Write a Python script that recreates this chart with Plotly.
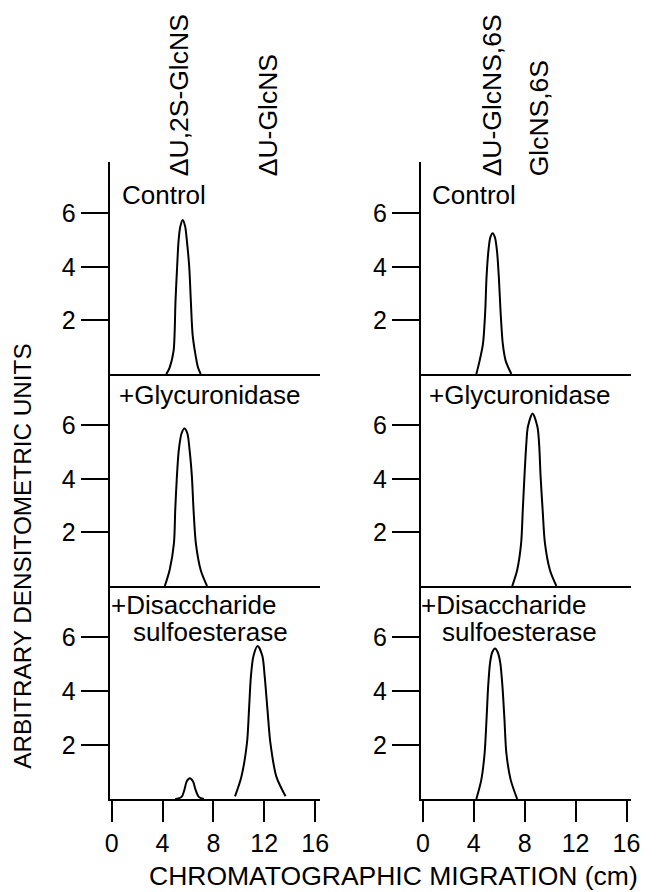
import plotly.graph_objects as go

# ---------------- data ----------------
# x: chromatographic migration (cm), y: arbitrary densitometric units
ctrl_left_x = [4.3, 4.56, 4.87, 4.95, 5.02, 5.15, 5.26, 5.4, 5.59, 5.78, 5.92, 6.1, 6.23, 6.36, 6.54, 6.79, 7.0]
ctrl_left_y = [0, 0.24, 0.86, 1.5, 2.7, 4.0, 4.95, 5.5, 5.75, 5.5, 4.95, 4.0, 2.7, 1.5, 0.86, 0.24, 0]

ctrl_right_x = [4.2, 4.46, 4.72, 4.9, 5.0, 5.15, 5.3, 5.48, 5.66, 5.82, 5.97, 6.1, 6.28, 6.5, 6.95]
ctrl_right_y = [0, 0.5, 1.12, 2.36, 3.6, 4.6, 5.1, 5.25, 5.1, 4.6, 3.6, 2.36, 1.12, 0.5, 0]

glyc_left_x = [4.18, 4.56, 4.9, 5.0, 5.13, 5.28, 5.5, 5.72, 5.95, 6.13, 6.31, 6.44, 6.62, 7.0, 7.5]
glyc_left_y = [0, 0.6, 1.6, 2.84, 4.08, 5.07, 5.7, 5.88, 5.7, 5.07, 4.08, 2.84, 1.6, 0.6, 0]

glyc_right_x = [7.02, 7.41, 7.72, 7.85, 7.98, 8.13, 8.25, 8.62, 9.0, 9.13, 9.25, 9.41, 9.59, 9.98, 10.49]
glyc_right_y = [0, 0.6, 1.6, 2.84, 4.08, 5.32, 5.94, 6.44, 5.94, 5.32, 4.08, 2.84, 1.6, 0.6, 0]

sulf_left_small_x = [5.0, 5.5, 5.72, 5.9, 6.15, 6.4, 6.6, 6.85, 7.25]
sulf_left_small_y = [0, 0.08, 0.34, 0.65, 0.77, 0.65, 0.34, 0.08, 0]

sulf_left_big_x = [9.7, 10.2, 10.64, 10.8, 10.95, 11.15, 11.48, 11.85, 12.03, 12.25, 12.48, 12.95, 13.67]
sulf_left_big_y = [0.1, 0.83, 2.08, 3.32, 4.56, 5.31, 5.68, 5.31, 4.56, 3.32, 2.08, 0.83, 0.1]

sulf_right_x = [4.2, 4.59, 4.85, 5.0, 5.13, 5.28, 5.45, 5.67, 5.88, 6.08, 6.25, 6.41, 6.56, 6.9, 7.41]
sulf_right_y = [0, 0.71, 1.7, 2.95, 4.19, 5.06, 5.45, 5.59, 5.45, 5.06, 4.19, 2.95, 1.7, 0.71, 0]

x_ticks = [0, 4, 8, 12, 16]
y_ticks = [2, 4, 6]
panel_labels = [["Control"], ["+Glycuronidase"], ["+Disaccharide", "sulfoesterase"]]
left_markers = ["\u0394U,2S-GlcNS", "\u0394U-GlcNS"]
right_markers = ["\u0394U-GlcNS,6S", "GlcNS,6S"]
y_title = "ARBITRARY DENSITOMETRIC UNITS"
x_title = "CHROMATOGRAPHIC MIGRATION (cm)"

# ---------------- layout helpers ----------------
W, H = 656, 892
FONT = "Liberation Sans, Arial, Helvetica, sans-serif"

def px(p):
    return p / W

def py(p):
    return 1 - p / H

x_dom = [[px(107), px(322)], [px(425), px(640)]]
x_rng = [[-0.15, 16.39], [-0.154, 16.38]]
y_dom = [[py(374), py(162)], [py(586), py(374)], [py(799), py(586)]]
y_rng = [0, 7.91]

series = [
    (0, 0, [(ctrl_left_x, ctrl_left_y)]),
    (0, 1, [(ctrl_right_x, ctrl_right_y)]),
    (1, 0, [(glyc_left_x, glyc_left_y)]),
    (1, 1, [(glyc_right_x, glyc_right_y)]),
    (2, 0, [(sulf_left_small_x, sulf_left_small_y), (sulf_left_big_x, sulf_left_big_y)]),
    (2, 1, [(sulf_right_x, sulf_right_y)]),
]

fig = go.Figure()
layout = dict(
    width=W, height=H,
    margin=dict(l=0, r=0, t=0, b=0),
    paper_bgcolor="white", plot_bgcolor="white",
    showlegend=False,
    font=dict(family=FONT, color="black", size=24),
)

for row, col, curves in series:
    i = row * 2 + col + 1
    sfx = "" if i == 1 else str(i)
    for cx, cy in curves:
        fig.add_trace(go.Scatter(
            x=cx, y=cy, mode="lines",
            line=dict(color="black", width=2, shape="spline", smoothing=0.8),
            xaxis="x" + sfx, yaxis="y" + sfx, hoverinfo="skip",
        ))
    bottom = row == 2
    layout["xaxis" + sfx] = dict(
        domain=x_dom[col], range=x_rng[col], anchor="y" + sfx,
        showline=True, linecolor="black", linewidth=2,
        showgrid=False, zeroline=False, fixedrange=True,
        ticks="outside" if bottom else "", tickvals=x_ticks,
        ticklen=21, tickwidth=2, tickcolor="black",
        showticklabels=bottom, tickfont=dict(size=25, family=FONT),
    )
    layout["yaxis" + sfx] = dict(
        domain=y_dom[row], range=y_rng, anchor="x" + sfx,
        showline=True, linecolor="black", linewidth=2,
        showgrid=False, zeroline=False, fixedrange=True,
        ticks="outside", tickvals=y_ticks,
        ticklen=27, tickwidth=2, tickcolor="black",
        tickfont=dict(size=25, family=FONT),
    )

annotations = []
# panel labels (pixel positions of each line's left edge / vertical centre)
label_pos = [
    [[(118, 195)], [(434, 195)]],
    [[(114, 395)], [(431, 395)]],
    [[(106, 605), (129, 632)], [(423, 605), (444, 632)]],
]
for r, lines in enumerate(panel_labels):
    for c in range(2):
        for k, line in enumerate(lines):
            xx, yy = label_pos[r][c][k]
            annotations.append(dict(
                text=line, xref="paper", yref="paper", x=px(xx), y=py(yy),
                xanchor="left", yanchor="middle", showarrow=False, align="left",
                font=dict(size=26, family=FONT),
            ))

# rotated component markers at the top
marker_pos = [(left_markers[0], 178), (left_markers[1], 269),
              (right_markers[0], 498), (right_markers[1], 546)]
for txt, xx in marker_pos:
    annotations.append(dict(
        text=txt, xref="paper", yref="paper", x=px(xx), y=py(178),
        xanchor="center", yanchor="bottom", showarrow=False, textangle=-90,
        font=dict(size=26.5, family=FONT),
    ))

annotations.append(dict(
    text=y_title, xref="paper", yref="paper", x=px(17), y=py(556),
    xanchor="center", yanchor="middle", showarrow=False, textangle=-90,
    font=dict(size=24.3, family=FONT),
))
annotations.append(dict(
    text=x_title, xref="paper", yref="paper", x=px(397), y=0,
    xanchor="center", yanchor="bottom", showarrow=False, borderpad=0,
    font=dict(size=26.5, family=FONT),
))
layout["annotations"] = annotations

fig.update_layout(**layout)
fig.write_html(
    "out.html",
    config={"displayModeBar": False, "staticPlot": True},
    post_script="document.body.style.margin='0';document.body.style.overflow='hidden';",
)
